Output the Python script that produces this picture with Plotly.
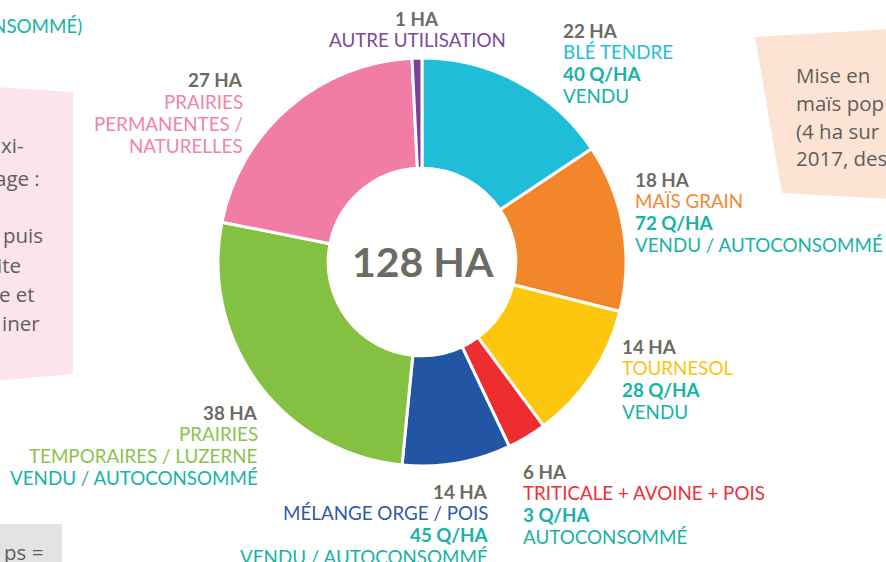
import plotly.graph_objects as go

# ---------------- data ----------------
crops = ["BLÉ TENDRE", "MAÏS GRAIN", "TOURNESOL", "TRITICALE + AVOINE + POIS",
         "MÉLANGE ORGE / POIS", "PRAIRIES<br>TEMPORAIRES / LUZERNE",
         "PRAIRIES<br>PERMANENTES /<br>NATURELLES", "AUTRE UTILISATION"]
# hectares as printed in the labels
hectares = [22, 18, 14, 6, 14, 38, 27, 1]
# slice sizes as drawn in the picture (128 ha total)
drawn_ha = [20, 17, 14, 4, 11, 34, 27, 1]
yields_q_ha = [40, 72, 28, 3, 45, None, None, None]
uses = ["VENDU", "VENDU / AUTOCONSOMMÉ", "VENDU", "AUTOCONSOMMÉ",
        "VENDU / AUTOCONSOMMÉ", "VENDU / AUTOCONSOMMÉ", None, None]
total_label = "128 HA"

slice_colors = ["#1FBDD8", "#F3862B", "#FDC70E", "#EE2E2E",
                "#2355A5", "#84C142", "#F17CA6", "#7B3F98"]
text_colors = ["#27BCD7", "#F3882F", "#FDC40F", "#EE3036",
               "#2F5AA8", "#8BC34C", "#F283AC", "#7E4A9C"]
GREY = "#6B6B63"
TEAL = "#16B3A6"

W, H = 886, 562
LINE = 21.7
FS = 18.8
FAMILY = "Lato"


def px(x):
    return x / W


def py(y):
    return 1 - y / H


fig = go.Figure(go.Pie(
    values=drawn_ha, labels=[c.replace("<br>", " ") for c in crops],
    customdata=hectares, hovertemplate="%{label}: %{customdata} ha<extra></extra>",
    sort=False, direction="clockwise", rotation=0, hole=0.46,
    marker=dict(colors=slice_colors, line=dict(color="white", width=3)),
    textinfo="none",
    domain=dict(x=[px(218), px(626)], y=[py(466), py(58)]),
    showlegend=False,
))

# label placement: (x px, first line centre y px, anchor)
placements = [
    (561, 30, "left"),
    (633, 179, "left"),
    (620, 346, "left"),
    (521, 471, "left"),
    (490, 491, "right"),
    (260, 412, "right"),
    (245, 80, "right"),
    (417, 18, "center"),
]

annotations = []


def add_line(text, x, y, anchor, color, bold=False, size=FS, family=FAMILY):
    annotations.append(dict(
        x=px(x), y=py(y), xref="paper", yref="paper",
        xanchor=anchor, yanchor="middle", showarrow=False,
        text=f"<b>{text}</b>" if bold else text,
        font=dict(family=family, size=size, color=color),
    ))


for i, crop in enumerate(crops):
    lines = [(f"{hectares[i]} HA", GREY, True)]
    for part in crop.split("<br>"):
        lines.append((part, text_colors[i], False))
    if yields_q_ha[i] is not None:
        lines.append((f"{yields_q_ha[i]} Q/HA", TEAL, True))
    if uses[i] is not None:
        lines.append((uses[i], TEAL, False))
    x, y0, anc = placements[i]
    for k, (t, c, b) in enumerate(lines):
        add_line(t, x, y0 + k * LINE, anc, c, b)

# centre total
annotations.append(dict(
    x=px(423), y=py(262), xref="paper", yref="paper", showarrow=False,
    text=f"<b>{total_label}</b>", xanchor="center", yanchor="middle",
    font=dict(family=FAMILY, size=41, color=GREY, weight=900),
))

# cropped surrounding texts
add_line("AUTOCONSOMMÉ)", 84, 25, "right", TEAL)

side_font = dict(family="Open Sans", size=20.5, color="#5E5E5E")
pink_lines = [("xi-", 26, 145), ("age :", 42, 178), ("puis", 45, 235),
              ("ite", 23, 265), ("e et", 37, 294), ("iner", 42, 323)]
for t, xr, yc in pink_lines:
    annotations.append(dict(x=px(xr), y=py(yc), xref="paper", yref="paper",
                            showarrow=False, xanchor="right", yanchor="middle",
                            text=t, font=side_font))

peach_lines = [("Mise en", 75), ("maïs pop", 103), ("(4 ha sur", 131), ("2017, des", 158)]
for t, yc in peach_lines:
    annotations.append(dict(x=px(794), y=py(yc), xref="paper", yref="paper",
                            showarrow=False, xanchor="left", yanchor="middle",
                            text=t, font=side_font))

annotations.append(dict(x=px(2), y=py(552), xref="paper", yref="paper",
                        showarrow=False, xanchor="left", yanchor="middle",
                        text="ps =", font=side_font))


def poly(points):
    return "M " + " L ".join(f"{px(a)},{py(b)}" for a, b in points) + " Z"


shapes = [
    dict(type="path", xref="paper", yref="paper", layer="below",
         path=poly([(-5, 87), (73, 92), (73, 374), (-5, 381)]),
         fillcolor="#FCE4EC", line=dict(width=0)),
    dict(type="path", xref="paper", yref="paper", layer="below",
         path=poly([(755, 37), (890, 29), (890, 199), (782, 193)]),
         fillcolor="#FCE3D4", line=dict(width=0)),
    dict(type="path", xref="paper", yref="paper", layer="below",
         path=poly([(-5, 524), (62, 524), (62, 570), (-5, 570)]),
         fillcolor="#E3E3E3", line=dict(width=0)),
]

fig.update_layout(
    width=W, height=H, margin=dict(l=0, r=0, t=0, b=0),
    paper_bgcolor="white", plot_bgcolor="white",
    annotations=annotations, shapes=shapes,
)

fig.write_html("out.html", config={"displayModeBar": False},
               post_script="document.body.style.margin='0';document.body.style.overflow='hidden';")
